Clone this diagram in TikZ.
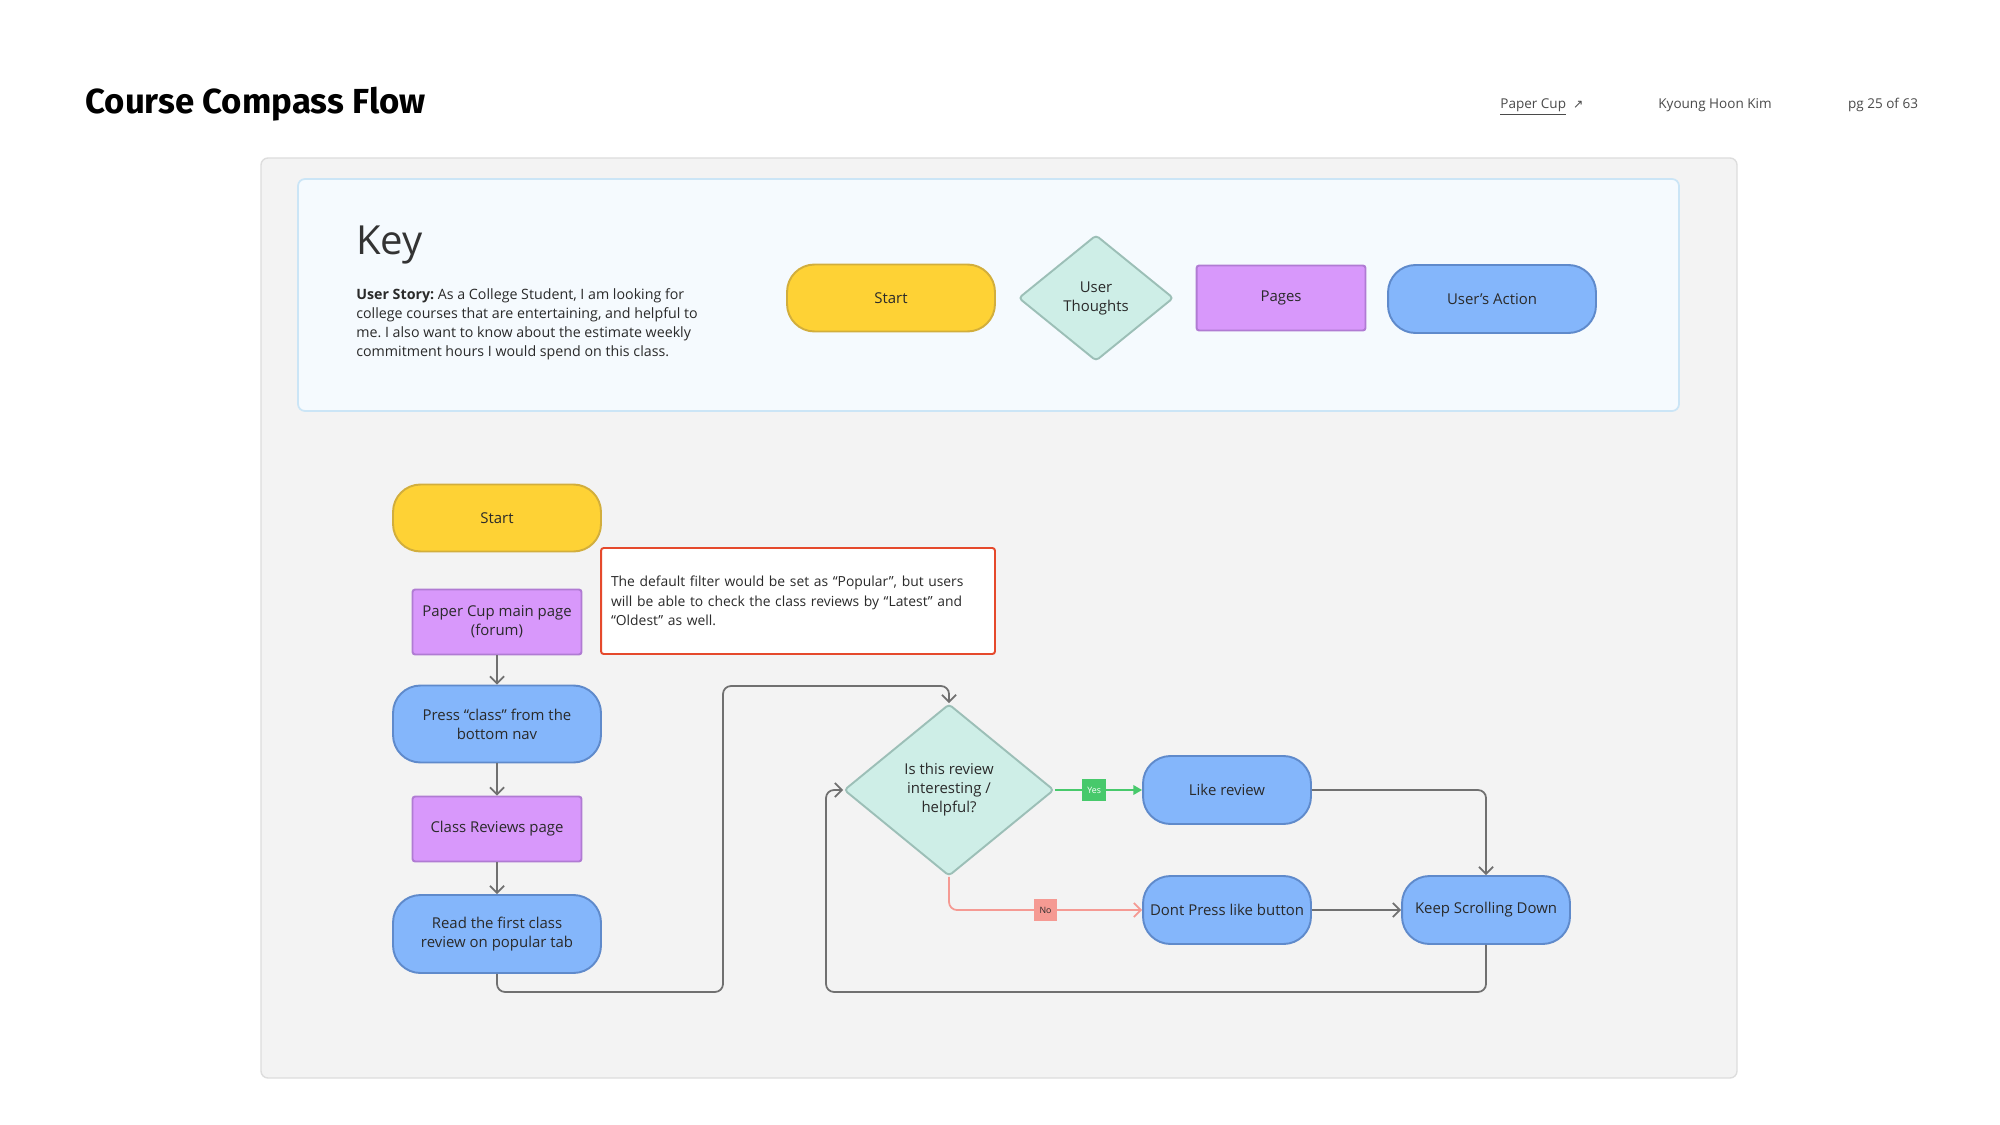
\documentclass[tikz,border=0pt]{standalone}
\usepackage{fontspec}
\setmainfont{Open Sans}
\newfontfamily\headfont{Fira Sans}
\newfontfamily\symfont{DejaVu Sans}
\usetikzlibrary{shapes.geometric,arrows.meta}
\frenchspacing

\definecolor{ink}{HTML}{2A2A2A}
\definecolor{greytext}{HTML}{4A4A4A}
\definecolor{panel}{HTML}{F3F3F3}
\definecolor{panelline}{HTML}{DDDDDD}
\definecolor{keyfill}{HTML}{F5FAFE}
\definecolor{keyline}{HTML}{CBE5F6}
\definecolor{startfill}{HTML}{FED235}
\definecolor{startline}{HTML}{D2AE3C}
\definecolor{thinkfill}{HTML}{CEEEE7}
\definecolor{thinkline}{HTML}{9CBFB7}
\definecolor{pagefill}{HTML}{D898FB}
\definecolor{pageline}{HTML}{B07BD3}
\definecolor{actfill}{HTML}{84B6FB}
\definecolor{actline}{HTML}{5F8ACB}
\definecolor{flowline}{HTML}{707070}
\definecolor{yesgreen}{HTML}{47C96B}
\definecolor{nored}{HTML}{F59A93}
\definecolor{notered}{HTML}{E5492C}

\begin{document}
\begin{tikzpicture}[x=0.02cm, y=-0.02cm,
    every node/.style={text=ink, font=\fontsize{8.5}{10.8}\selectfont},
    startbox/.style={draw=startline, fill=startfill, line width=1.1pt, rounded corners=0.55cm,
      minimum width=4.16cm, minimum height=1.34cm},
    thinkbox/.style={diamond, draw=thinkline, fill=thinkfill, line width=1.1pt, rounded corners=2pt,
      inner sep=0pt, align=center},
    pagebox/.style={draw=pageline, fill=pagefill, line width=1.1pt, rounded corners=1.5pt,
      minimum width=3.38cm, minimum height=1.3cm, align=center},
    actbox/.style={draw=actline, fill=actfill, line width=1.1pt, rounded corners=0.55cm,
      minimum width=3.36cm, minimum height=1.36cm, align=center},
    flow/.style={draw=flowline, line width=1pt, rounded corners=0.16cm,
      -{Straight Barb[length=4pt,width=8pt]}},
    tag/.style={sharp corners, inner sep=0pt, minimum width=0.47cm, minimum height=0.44cm,
      font=\fontsize{5}{6}\selectfont}
  ]
  \useasboundingbox (0,0) rectangle (2000,1125);
  \fill[white] (0,0) rectangle (2000,1125);

  % header
  \node (title) at (85,114) [anchor=base west, inner sep=0pt, font=\headfont\bfseries\fontsize{19.8}{23}\selectfont, text=black] {Course Compass Flow};
  \node (link) at (1500,109) [anchor=base west, inner sep=0pt, text=greytext, font=\fontsize{7.7}{9}\selectfont] {\underline{Paper Cup}\hspace{4pt}{\symfont\fontsize{7}{9}\selectfont ↗}};
  \node (author) at (1715,109) [anchor=base, inner sep=0pt, text=greytext, font=\fontsize{7.7}{9}\selectfont] {Kyoung Hoon Kim};
  \node (page) at (1883,109) [anchor=base, inner sep=0pt, text=greytext, font=\fontsize{7.7}{9}\selectfont] {pg 25 of 63};

  \draw[draw=panelline, fill=panel, line width=0.8pt, rounded corners=4pt] (261,158) rectangle (1737,1078);
  \draw[draw=keyline, fill=keyfill, line width=1pt, rounded corners=4pt] (298,179) rectangle (1679,411);

  % key
  \node (key) at (356,255) [anchor=base west, inner sep=0pt, text=black!80, font=\fontsize{22.8}{27}\selectfont] {Key};
  \node (story) at (356,288) [anchor=north west, inner sep=0pt, align=left, font=\fontsize{8.1}{10.9}\selectfont]
    {\textbf{User Story:} As a College Student, I am looking for\\college courses that are entertaining, and helpful to\\me. I also want to know about the estimate weekly\\commitment hours I would spend on this class.};

  \node (keystart) at (891,298) [startbox] {Start};
  \node (keythought) at (1096,298) [thinkbox, minimum width=3.1cm, minimum height=2.52cm] {User\\Thoughts};
  \node (keypage) at (1281,298) [pagebox] {Pages};
  \node (keyaction) at (1492,299) [actbox, minimum width=4.16cm] {User's Action};

  % flow
  \node (start) at (497,518) [startbox] {Start};
  \node (filternote) at (798,601) [draw=notered, fill=white, line width=1.1pt, rounded corners=1.5pt,
    minimum width=7.88cm, minimum height=2.12cm, inner xsep=0.2cm, text width=7.48cm, align=left,
    font=\fontsize{7.9}{11}\selectfont]
    {The default filter would be set as “Popular”, but users\\will be able to check the class reviews by “Latest” and\\“Oldest” as well.};
  \node (mainpg) at (497,622) [pagebox] {Paper Cup main page\\(forum)};
  \node (presscls) at (497,724) [actbox, minimum width=4.16cm, minimum height=1.54cm] {Press “class” from the\\bottom nav};
  \node (reviewpg) at (497,829) [pagebox] {Class Reviews page};
  \node (readfirst) at (497,934) [actbox, minimum width=4.16cm, minimum height=1.56cm] {Read the first class\\review on popular tab};

  \node (isgood) at (949,790) [thinkbox, minimum width=4.2cm, minimum height=3.44cm] {Is this review\\interesting /\\helpful?};
  \node (likerev) at (1227,790) [actbox] {Like review};
  \node (nolike) at (1227,910) [actbox] {Dont Press like button};
  \node (keepscroll) at (1486,910) [actbox] {Keep Scrolling Down};

  \draw[flow] (mainpg) -- (presscls);
  \draw[flow] (presscls) -- (reviewpg);
  \draw[flow] (reviewpg) -- (readfirst);
  \draw[flow] (readfirst.south) -- ++(0,18) -| (723,686) -| (isgood.north);

  \draw[draw=yesgreen, line width=1pt, -{Triangle[length=5pt,width=5.5pt]}] (isgood.east) -- (likerev.west)
    node (yestag) [pos=0.45, tag, fill=yesgreen, text=white] {Yes};
  \draw[flow, draw=nored] (isgood.south) |- (nolike.west)
    node (notag) [pos=0.75, tag, fill=nored, text=ink] {No};

  \draw[flow] (likerev.east) -| (keepscroll.north);
  \draw[flow] (nolike) -- (keepscroll);
  \draw[flow] (keepscroll.south) -- ++(0,47) -| (826,790) -- (isgood.west);
\end{tikzpicture}
\end{document}
